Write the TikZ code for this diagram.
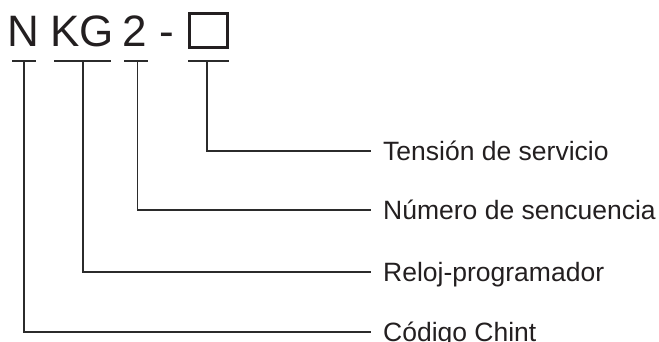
\documentclass[tikz,border=0pt]{standalone}
\usepackage{fontspec}
\setmainfont{Liberation Sans}
\definecolor{ink}{HTML}{231F20}
\definecolor{wire}{HTML}{2B2B2B}
\tikzset{
  codetext/.style={font=\fontsize{44}{44}\selectfont, inner sep=0pt, anchor=base west, text=ink},
  codebox/.style={draw=ink, line width=3.3pt, minimum width=38.4pt, minimum height=34.4pt, inner sep=0pt},
  lbl/.style={font=\fontsize{26.5}{26.5}\selectfont, inner sep=0pt, anchor=west, text height=19pt, text depth=0pt, text=ink},
  bar/.style={draw=wire, line width=1.2pt},
  conn/.style={draw=wire, line width=1.2pt}
}
\begin{document}
\begin{tikzpicture}[x=1pt,y=-1pt]
\useasboundingbox (0,0) rectangle (659,342);
% code letters
\node[codetext] (cN) at (7.7,47) {N};
\node[codetext] (cKG) at (50,47) {KG};
\node[codetext] (c2) at (122.5,47) {2};
\node[codetext] (cdash) at (159,47) {-};
\node[codebox] (cbox) at (208.5,30.5) {};
% bars
\coordinate (bN) at (24,61);
\coordinate (bKG) at (83,61);
\coordinate (b2) at (137.7,61);
\coordinate (bBox) at (207,61);
\draw[bar] ([xshift=-12pt]bN) -- ([xshift=12pt]bN);
\draw[bar] ([xshift=-29pt]bKG) -- ([xshift=28pt]bKG);
\draw[bar] ([xshift=-13.7pt]b2) -- ([xshift=10.3pt]b2);
\draw[bar] ([xshift=-19pt]bBox) -- ([xshift=22pt]bBox);
% labels
\node[lbl] (lT) at (383,151) {Tensión de servicio};
\node[lbl] (lNum) at (383,210) {Número de sencuencia};
\node[lbl] (lR) at (383,272) {Reloj-programador};
\node[lbl] (lC) at (383,332) {Código Chint};
% connectors
\draw[conn] (bBox) |- ([xshift=-12pt]lT.west);
\draw[conn] (b2) |- ([xshift=-12pt]lNum.west);
\draw[conn] (bKG) |- ([xshift=-12pt]lR.west);
\draw[conn] (bN) |- ([xshift=-12pt]lC.west);
\end{tikzpicture}
\end{document}
